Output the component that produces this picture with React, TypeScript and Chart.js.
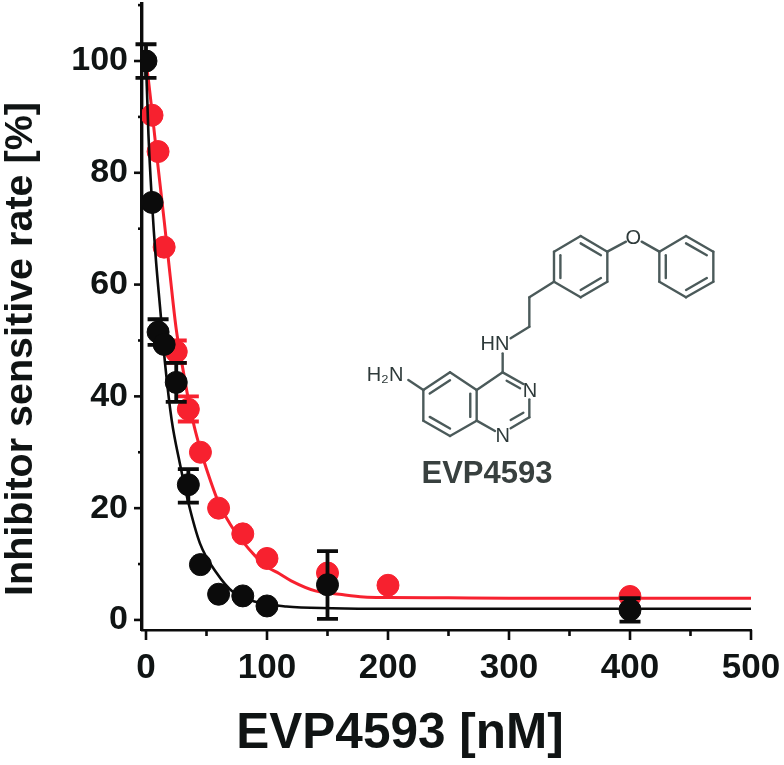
import React, { useEffect, useRef } from "react";
import { Chart, registerables } from "chart.js";

Chart.register(...registerables);

// --- data ---
const redX = [5, 10, 15, 25, 35, 45, 60, 80, 100, 150, 200, 400];
const redY = [90.3, 83.8, 66.7, 48, 37.7, 30, 20, 15.4, 11, 8.4, 6.2, 4.2];
const redErrX = [25, 35];
const redErrLow = [46, 35.5];
const redErrHigh = [50, 40];

const blackX = [0, 5, 10, 15, 25, 35, 45, 60, 80, 100, 150, 400];
const blackY = [100, 74.7, 51.5, 49.3, 42.5, 24.2, 9.9, 4.6, 4.3, 2.5, 6.3, 1.8];
const blackErrX = [0, 10, 25, 35, 150, 400];
const blackErrLow = [97, 49.2, 39, 21, 0.2, -0.3];
const blackErrHigh = [103, 53.8, 46, 27, 12.3, 3.9];

const redCurveX = [0, 2, 5, 10, 15, 20, 25, 30, 35, 40, 45, 50, 60, 70, 80, 90, 100, 110, 120, 140, 160, 180, 200, 250, 300, 400, 500];
const redCurveY = [100, 96.6, 91, 81, 71.5, 61.5, 52, 45.5, 39.5, 34.5, 30.5, 27, 21, 17, 14, 11.5, 9.5, 8.3, 7, 5.2, 4.6, 4.1, 4, 3.95, 3.9, 3.9, 3.9];
const blackCurveX = [0, 2, 5, 8, 11.6, 15.7, 21.2, 28, 35, 44.6, 58.4, 72, 91.5, 116, 154, 200, 300, 500];
const blackCurveY = [100, 87, 74.6, 65, 56, 46, 35.8, 28, 21, 13.7, 8.4, 5, 3.2, 2.4, 2.1, 2, 2, 2];

const xTickLabels = [0, 100, 200, 300, 400, 500];
const yTickLabels = [0, 20, 40, 60, 80, 100];
const xTitle = "EVP4593 [nM]";
const yTitle = "Inhibitor sensitive rate [%]";
const compoundName = "EVP4593";

// --- colours ---
const RED = "#f7212f";
const BLACK = "#0b0b0b";
const INK = "#101414";
const MOL = "#4b5a5a";
const SANS = '"Liberation Sans", Arial, sans-serif';

// --- structure drawing of the compound (decoration, in 3x page units from the box origin) ---
const MOL_ORIGIN = [350, 210];
const ringPhenyl = [[1008, 78], [1090, 125], [1090, 215], [1008, 262], [928, 215], [928, 125]];
const ringMiddle = [[692, 78], [772, 125], [772, 215], [692, 262], [612, 215], [612, 125]];
const ringBenzo = [[300, 487], [380, 540], [380, 632], [300, 678], [220, 632], [220, 540]];
const innerPhenyl = [[0, 1], [2, 3], [4, 5]];
const innerMiddle = [[0, 1], [2, 3], [4, 5]];
const innerBenzo = [[5, 0], [3, 4], [1, 2]];
const singleBonds = [
  [772, 125, 828, 95], [875, 95, 928, 125],
  [612, 215, 538, 262], [538, 262, 538, 350], [538, 350, 482, 385],
  [458, 430, 458, 487], [458, 487, 380, 540], [458, 487, 520, 522],
  [470, 512, 510, 535], [538, 568, 538, 622], [538, 622, 482, 655],
  [520, 608, 482, 630], [380, 632, 435, 663], [175, 510, 220, 540],
];
const atomLabels: [string, number, number][] = [
  ["O", 850, 84], ["HN", 435, 403], ["N", 540, 545], ["N", 458, 680], ["H\u2082N", 105, 497],
];

function drawMolecule(ctx: CanvasRenderingContext2D) {
  const mx = (v: number) => MOL_ORIGIN[0] + v / 3;
  const my = (v: number) => MOL_ORIGIN[1] + v / 3;
  const seg = (a: number, b: number, c: number, d: number) => {
    ctx.beginPath();
    ctx.moveTo(mx(a), my(b));
    ctx.lineTo(mx(c), my(d));
    ctx.stroke();
  };
  ctx.save();
  ctx.strokeStyle = MOL;
  ctx.lineWidth = 2.4;
  ctx.lineCap = "round";
  ctx.lineJoin = "round";
  const rings: [number[][], number[][]][] = [
    [ringPhenyl, innerPhenyl],
    [ringMiddle, innerMiddle],
    [ringBenzo, innerBenzo],
  ];
  for (const [ring, inner] of rings) {
    const cx = ring.reduce((s, p) => s + p[0], 0) / 6;
    const cy = ring.reduce((s, p) => s + p[1], 0) / 6;
    ring.forEach((p, i) => {
      const q = ring[(i + 1) % 6];
      seg(p[0], p[1], q[0], q[1]);
    });
    for (const [i, j] of inner) {
      const k = 0.76;
      seg(
        cx + (ring[i][0] - cx) * k, cy + (ring[i][1] - cy) * k,
        cx + (ring[j][0] - cx) * k, cy + (ring[j][1] - cy) * k
      );
    }
  }
  singleBonds.forEach((b) => seg(b[0], b[1], b[2], b[3]));
  ctx.fillStyle = "#2e3a3a";
  ctx.textAlign = "center";
  ctx.textBaseline = "middle";
  ctx.font = `20px ${SANS}`;
  atomLabels.forEach(([t, x, y]) => ctx.fillText(t, mx(x), my(y)));
  ctx.fillStyle = "#38403f";
  ctx.font = `bold 31px ${SANS}`;
  ctx.fillText(compoundName, mx(411), my(793));
  ctx.restore();
}

const errorBars = {
  id: "errorBars",
  beforeDatasetDraw(chart: any, args: any) {
    const ds = chart.data.datasets[args.index];
    if (!ds.errX) return;
    const { x, y } = chart.scales;
    const ctx = chart.ctx;
    ctx.save();
    ctx.strokeStyle = ds.backgroundColor;
    ctx.lineWidth = 3.8;
    ds.errX.forEach((v: number, i: number) => {
      const px = x.getPixelForValue(v);
      const lo = y.getPixelForValue(ds.errLow[i]);
      const hi = y.getPixelForValue(ds.errHigh[i]);
      ctx.beginPath();
      ctx.moveTo(px, lo);
      ctx.lineTo(px, hi);
      ctx.moveTo(px - 10.5, lo);
      ctx.lineTo(px + 10.5, lo);
      ctx.moveTo(px - 10.5, hi);
      ctx.lineTo(px + 10.5, hi);
      ctx.stroke();
    });
    ctx.restore();
  },
};

const axisDecor = {
  id: "axisDecor",
  beforeDatasetsDraw(chart: any) {
    const { x, y } = chart.scales;
    const area = chart.chartArea;
    const ctx = chart.ctx;
    ctx.save();
    ctx.strokeStyle = BLACK;
    ctx.lineWidth = 2.6;
    x.ticks.forEach((t: any) => {
      const px = x.getPixelForValue(t.value);
      const len = t.value % 100 === 0 ? 10 : 6;
      ctx.beginPath();
      ctx.moveTo(px, area.bottom);
      ctx.lineTo(px, area.bottom + len);
      ctx.stroke();
    });
    y.ticks.forEach((t: any) => {
      const py = y.getPixelForValue(t.value);
      const len = t.value % 20 === 0 ? 8 : 4;
      ctx.beginPath();
      ctx.moveTo(area.left, py);
      ctx.lineTo(area.left - len, py);
      ctx.stroke();
    });
    ctx.restore();
  },
  afterDraw(chart: any) {
    const ctx = chart.ctx;
    ctx.save();
    ctx.fillStyle = INK;
    ctx.textAlign = "center";
    ctx.textBaseline = "middle";
    ctx.font = `bold 49.5px ${SANS}`;
    ctx.fillText(xTitle, 400, 734);
    ctx.translate(21, 349);
    ctx.rotate(-Math.PI / 2);
    ctx.font = `bold 39.5px ${SANS}`;
    ctx.fillText(yTitle, 0, 0);
    ctx.restore();
    drawMolecule(ctx);
  },
};

const zip = (xs: number[], ys: number[]) => xs.map((x, i) => ({ x, y: ys[i] }));

export default function App() {
  const ref = useRef<HTMLCanvasElement>(null);
  useEffect(() => {
    const chart = new Chart(ref.current!, {
      type: "scatter",
      data: {
        datasets: [
          { label: "black points", data: zip(blackX, blackY), backgroundColor: BLACK, borderColor: BLACK, pointRadius: 11, showLine: false, order: 1, errX: blackErrX, errLow: blackErrLow, errHigh: blackErrHigh } as any,
          { label: "black fit", data: zip(blackCurveX, blackCurveY), borderColor: BLACK, backgroundColor: BLACK, borderWidth: 2.6, pointRadius: 0, showLine: true, cubicInterpolationMode: "monotone", order: 2 } as any,
          { label: "red points", data: zip(redX, redY), backgroundColor: RED, borderColor: RED, pointRadius: 11, showLine: false, order: 3, errX: redErrX, errLow: redErrLow, errHigh: redErrHigh } as any,
          { label: "red fit", data: zip(redCurveX, redCurveY), borderColor: RED, backgroundColor: RED, borderWidth: 3, pointRadius: 0, showLine: true, cubicInterpolationMode: "monotone", order: 4 } as any,
        ],
      },
      options: {
        responsive: false,
        animation: false,
        layout: { autoPadding: false, padding: { top: 4, right: 33, left: 0, bottom: 0 } },
        plugins: { legend: { display: false }, tooltip: { enabled: false }, title: { display: false } },
        scales: {
          x: {
            type: "linear",
            min: -3.3,
            max: 500,
            grid: { display: false },
            border: { display: true, color: BLACK, width: 2.6 },
            afterFit(s: any) {
              s.height = 135;
              s.paddingLeft = 0;
              s.paddingRight = 0;
            },
            ticks: {
              stepSize: 50,
              includeBounds: false,
              autoSkip: false,
              maxRotation: 0,
              padding: 9,
              color: INK,
              font: { family: SANS, size: 35, weight: "bold" },
              callback: (v: any) => (xTickLabels.includes(v) ? String(v) : ""),
            },
          },
          y: {
            type: "linear",
            min: -1.8,
            max: 110.2,
            grid: { display: false },
            border: { display: true, color: BLACK, width: 3.4 },
            afterFit(s: any) {
              s.width = 142;
              s.paddingTop = 0;
              s.paddingBottom = 0;
            },
            ticks: {
              stepSize: 10,
              includeBounds: false,
              autoSkip: false,
              padding: 6,
              color: INK,
              font: { family: SANS, size: 34, weight: "bold" },
              callback: (v: any) => (yTickLabels.includes(v) ? String(v) : ""),
            },
          },
        },
      },
      plugins: [errorBars, axisDecor],
    } as any);
    return () => chart.destroy();
  }, []);
  return (
    <canvas
      ref={ref}
      width={784}
      height={765}
      style={{ position: "absolute", left: 0, top: 0, display: "block", background: "#fff", filter: "blur(0.5px)" }}
    />
  );
}
